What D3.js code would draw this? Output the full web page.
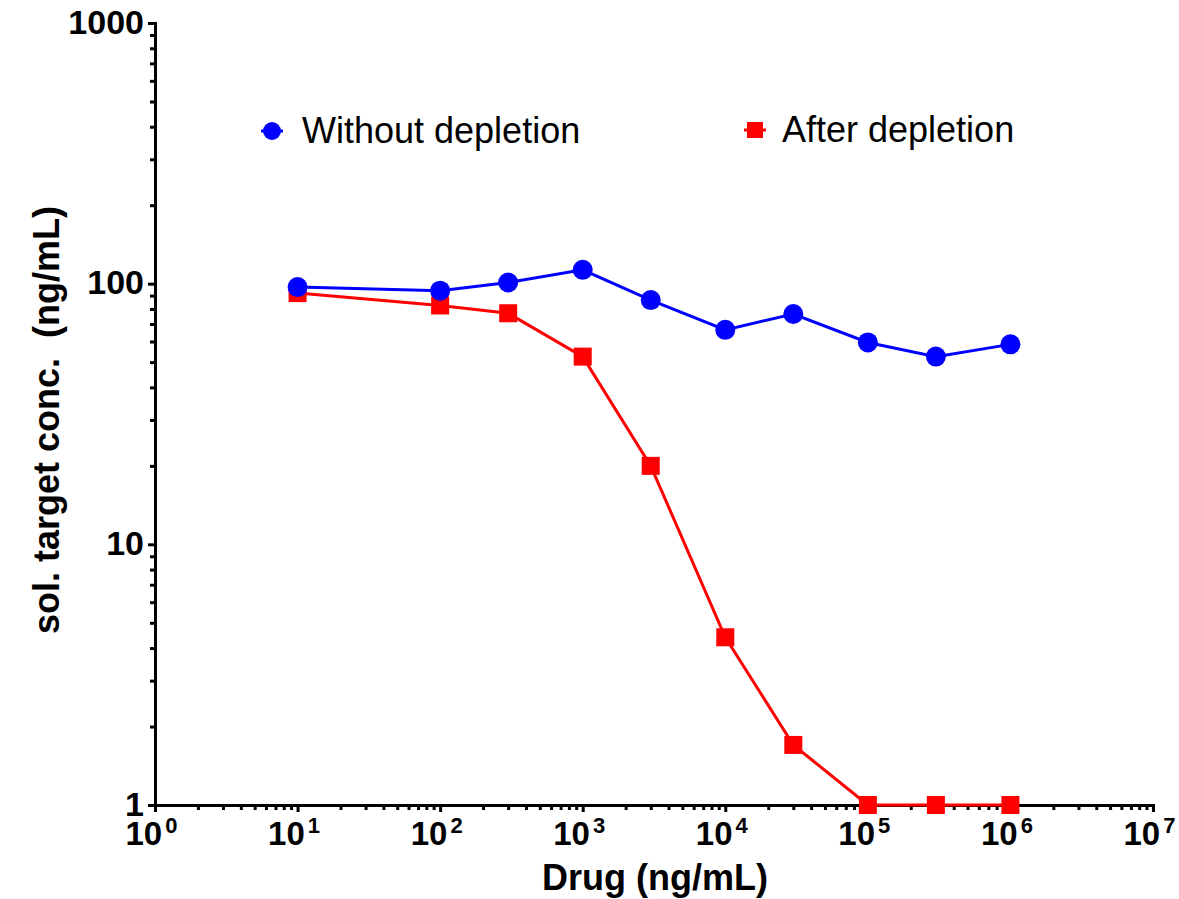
<!DOCTYPE html>
<html>
<head>
<meta charset="utf-8">
<script src="https://cdn.jsdelivr.net/npm/d3@7"></script>
<style>
  body { margin: 0; background: #fff; }
  svg { display: block; font-family: Arial, "Liberation Sans", sans-serif; }
</style>
</head>
<body>
<svg id="chart" width="1179" height="899"></svg>
<script>
// drug concentration (ng/mL)
const doses = [10, 100, 300, 1000, 3000, 10000, 30000, 100000, 300000, 1000000];
// sol. target conc. (ng/mL)
const withoutDepletion = [97, 94, 101, 113, 86.5, 66.5, 76.5, 59.5, 52.5, 58.5];
const afterDepletion = [92, 82.5, 77, 52.5, 20, 4.4, 1.7, 1, 1, 1];

const xMajor = [1, 10, 100, 1e3, 1e4, 1e5, 1e6, 1e7];
const xExponents = ["0", "1", "2", "3", "4", "5", "6", "7"];
const yMajor = [1, 10, 100, 1000];
const yLabels = ["1", "10", "100", "1000"];

const svg = d3.select("#chart");
const FONT = "Arial, 'Liberation Sans', sans-serif";

const x = d3.scaleLog().domain([1, 1e7]).range([155, 1153]);
const y = d3.scaleLog().domain([1, 1000]).range([805, 23]);

// minor ticks 2..9 in each decade
const minorOf = (lo, hi) => {
  const out = [];
  for (let d = lo; d < hi; d *= 10)
    for (let k = 2; k <= 9; k++) out.push(d * k);
  return out;
};

// x axis
const gx = svg.append("g").attr("transform", `translate(0,${y(1)})`);
gx.call(d3.axisBottom(x).tickValues(minorOf(1, 1e7)).tickSize(5).tickFormat(""));
gx.call(g => g.select(".domain").remove());
const gxMaj = svg.append("g").attr("transform", `translate(0,${y(1)})`)
  .call(d3.axisBottom(x).tickValues(xMajor).tickSize(7).tickSizeOuter(0).tickFormat(""));

gxMaj.selectAll(".tick").each(function(d, i) {
  const t = d3.select(this).append("text")
    .attr("y", 40)
    .attr("x", -4)
    .attr("fill", "#000")
    .attr("text-anchor", "middle")
    .attr("font-family", FONT)
    .attr("font-size", 33)
    .attr("font-weight", "bold");
  t.append("tspan").text("10");
  t.append("tspan").attr("dy", -12).attr("dx", 3).attr("font-size", 22).text(xExponents[i]);
});

// y axis
const gy = svg.append("g").attr("transform", `translate(${x(1)},0)`);
gy.call(d3.axisLeft(y).tickValues(minorOf(1, 1000)).tickSize(5).tickFormat(""));
gy.call(g => g.select(".domain").remove());
const gyMaj = svg.append("g").attr("transform", `translate(${x(1)},0)`)
  .call(d3.axisLeft(y).tickValues(yMajor).tickSize(7).tickSizeOuter(0)
    .tickFormat((d, i) => yLabels[i]));
gyMaj.selectAll(".tick text")
  .attr("x", -11)
  .attr("dy", "0.3em")
  .attr("font-size", 34)
  .attr("font-weight", "bold")
  .attr("font-family", FONT);

svg.selectAll("g .tick line").attr("stroke-width", 3);
svg.selectAll(".domain").attr("stroke-width", 3).attr("stroke-linecap", "square");

// axis titles
svg.append("text")
  .attr("x", 655).attr("y", 890)
  .attr("text-anchor", "middle")
  .attr("font-size", 36).attr("font-weight", "bold")
  .text("Drug (ng/mL)");

svg.append("text")
  .attr("transform", "translate(59,420) rotate(-90)")
  .attr("text-anchor", "middle")
  .attr("font-size", 36).attr("font-weight", "bold")
  .style("white-space", "pre")
  .text("sol. target conc.  (ng/mL)");

// series
const line = d3.line().x(d => x(d[0])).y(d => y(d[1]));
const blue = "#0000ff", red = "#ff0000";

const redPts = doses.map((d, i) => [d, afterDepletion[i]]);
const bluePts = doses.map((d, i) => [d, withoutDepletion[i]]);

svg.append("path").datum(redPts).attr("d", line)
  .attr("fill", "none").attr("stroke", red).attr("stroke-width", 3);
svg.selectAll("rect.red").data(redPts).join("rect").attr("class", "red")
  .attr("x", d => x(d[0]) - 9).attr("y", d => y(d[1]) - 9)
  .attr("width", 18).attr("height", 18).attr("fill", red);

svg.append("path").datum(bluePts).attr("d", line)
  .attr("fill", "none").attr("stroke", blue).attr("stroke-width", 3);
svg.selectAll("circle.blue").data(bluePts).join("circle").attr("class", "blue")
  .attr("cx", d => x(d[0])).attr("cy", d => y(d[1]))
  .attr("r", 10).attr("fill", blue);

// legend
const lg1 = svg.append("g").attr("transform", "translate(272,131)");
lg1.append("line").attr("x1", -11).attr("x2", 11).attr("stroke", blue).attr("stroke-width", 3);
lg1.append("circle").attr("r", 9).attr("fill", blue);
lg1.append("text").attr("x", 30).attr("y", 12).attr("font-size", 36).text("Without depletion");

const lg2 = svg.append("g").attr("transform", "translate(755,130)");
lg2.append("line").attr("x1", -11).attr("x2", 11).attr("stroke", red).attr("stroke-width", 3);
lg2.append("rect").attr("x", -8).attr("y", -8).attr("width", 16).attr("height", 16).attr("fill", red);
lg2.append("text").attr("x", 27).attr("y", 12).attr("font-size", 36).text("After depletion");
</script>
</body>
</html>
